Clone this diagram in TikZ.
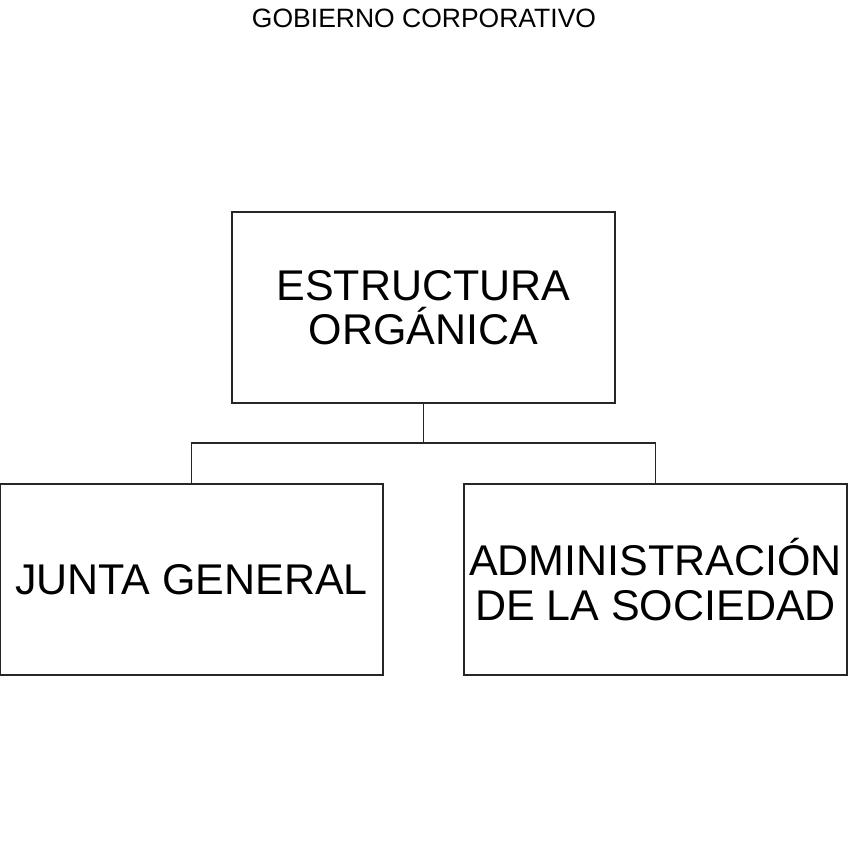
\documentclass[tikz,border=0pt]{standalone}
\usepackage{fontspec}
\setmainfont{Liberation Sans}
\begin{document}
\begin{tikzpicture}[x=1pt,y=-1pt,
  orgbox/.style={draw=black!85,line width=1.4pt,minimum width=383pt,minimum height=191pt,inner sep=0pt,align=center,font=\fontsize{43}{44.5}\selectfont},
  link/.style={draw=black!85,line width=1.4pt}]
\useasboundingbox (0,0) rectangle (848,848);
\node[font=\fontsize{26.5}{28}\selectfont,anchor=base] (title) at (424,28) {GOBIERNO CORPORATIVO};
\node[orgbox] (top) at (423.5,307.5) {ESTRUCTURA\\ORGÁNICA};
\node[orgbox] (left) at (191.5,579.5) {JUNTA GENERAL};
\node[orgbox] (right) at (655.5,579.5) {ADMINISTRACIÓN\\DE LA SOCIEDAD};
\coordinate (hub) at (423.5,443);
\draw[link] (top.south) -- (hub);
\draw[link] (hub) -| (left.north);
\draw[link] (hub) -| (right.north);
\end{tikzpicture}
\end{document}
